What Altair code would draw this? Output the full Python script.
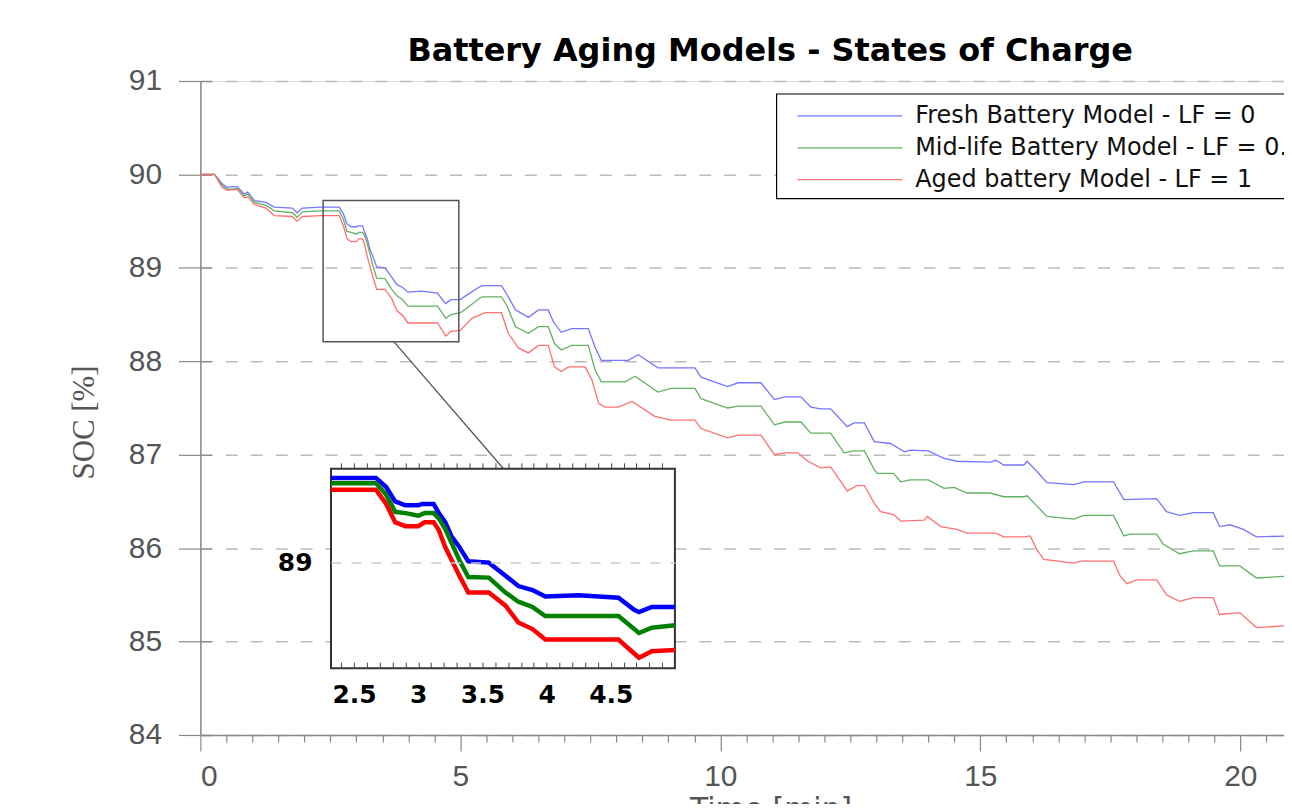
import altair as alt
import pandas as pd

SERIES = ["Fresh Battery Model - LF = 0",
          "Mid-life Battery Model - LF = 0.5",
          "Aged battery Model - LF = 1"]

fresh_t = [0, 0.27, 0.42, 0.52, 0.59, 0.71, 0.84, 0.91, 1.04, 1.26, 1.42, 1.77, 1.86, 1.96,
           2.32, 2.67, 2.75, 2.82, 2.90, 3.00, 3.03, 3.12, 3.16, 3.21, 3.26, 3.32, 3.39, 3.55,
           3.68, 3.78, 3.89, 3.99, 4.25, 4.56, 4.68, 4.72, 4.82, 5.00, 5.10, 5.35, 5.41, 5.79,
           5.89, 6.06, 6.31, 6.50, 6.69, 6.79, 6.94, 7.14, 7.46, 7.59, 7.71, 8.23, 8.42, 8.80,
           9.51, 9.63, 10.14, 10.34, 10.78, 11.04, 11.24, 11.55, 11.74, 11.93, 12.12, 12.44,
           12.57, 12.77, 12.96, 13.27, 13.54, 13.65, 14.00, 14.30, 14.55, 15.19, 15.30, 15.45,
           15.84, 15.90, 16.09, 16.28, 16.80, 16.99, 17.56, 17.76, 18.39, 18.58, 18.83, 19.10,
           19.48, 19.60, 19.80, 20.06, 20.31, 20.92]
fresh_soc = [90.00, 90.00, 89.90, 89.86, 89.87, 89.87, 89.79, 89.81, 89.72, 89.70, 89.65, 89.64, 89.59, 89.64,
             89.65, 89.65, 89.58, 89.47, 89.44, 89.44, 89.45, 89.45, 89.38, 89.31, 89.20, 89.12, 89.01, 89.00,
             88.90, 88.82, 88.79, 88.74, 88.75, 88.73, 88.64, 88.62, 88.66, 88.66, 88.70, 88.79, 88.81, 88.81,
             88.72, 88.55, 88.47, 88.55, 88.55, 88.42, 88.31, 88.35, 88.35, 88.15, 88.01, 88.01, 88.07, 87.93,
             87.93, 87.83, 87.73, 87.77, 87.77, 87.59, 87.62, 87.62, 87.51, 87.49, 87.49, 87.30,
             87.34, 87.34, 87.14, 87.12, 87.03, 87.05, 87.04, 86.96, 86.93, 86.92, 86.94, 86.89,
             86.89, 86.93, 86.82, 86.70, 86.68, 86.71, 86.71, 86.52, 86.53, 86.39, 86.35, 86.38,
             86.38, 86.23, 86.25, 86.20, 86.12, 86.13]

mid_t = [0, 0.27, 0.42, 0.52, 0.71, 0.84, 0.91, 1.04, 1.26, 1.42, 1.77, 1.86, 1.96,
         2.32, 2.67, 2.75, 2.82, 2.90, 3.00, 3.05, 3.12, 3.16, 3.21, 3.26, 3.32, 3.39, 3.55,
         3.68, 3.78, 3.89, 3.99, 4.56, 4.72, 4.82, 5.00, 5.10, 5.41, 5.79, 5.89, 6.06, 6.31,
         6.50, 6.69, 6.81, 6.94, 7.14, 7.46, 7.59, 7.71, 8.17, 8.36, 8.80, 9.05, 9.51, 9.63,
         10.14, 10.34, 10.78, 11.04, 11.24, 11.55, 11.74, 12.12, 12.38, 12.57, 12.77, 12.96,
         13.02, 13.33, 13.47, 13.65, 14.00, 14.30, 14.50, 14.74, 15.19, 15.45, 15.84, 15.90,
         16.09, 16.28, 16.80, 16.99, 17.56, 17.76, 17.88, 18.39, 18.52, 18.83, 19.10, 19.48,
         19.60, 19.99, 20.31, 20.92]
mid_soc = [90.00, 90.00, 89.88, 89.84, 89.85, 89.77, 89.79, 89.70, 89.67, 89.61, 89.59, 89.54, 89.60,
           89.61, 89.61, 89.52, 89.39, 89.38, 89.36, 89.38, 89.38, 89.34, 89.26, 89.15, 89.02, 88.89, 88.885,
           88.77, 88.70, 88.66, 88.59, 88.59, 88.46, 88.50, 88.52, 88.56, 88.69, 88.69, 88.60, 88.37, 88.30,
           88.37, 88.37, 88.19, 88.12, 88.17, 88.17, 87.91, 87.78, 87.78, 87.84, 87.67, 87.71, 87.71, 87.60,
           87.50, 87.52, 87.52, 87.32, 87.35, 87.35, 87.23, 87.23, 87.02, 87.04, 87.04, 86.84,
           86.80, 86.80, 86.71, 86.73, 86.73, 86.64, 86.65, 86.59, 86.59, 86.55, 86.55, 86.56,
           86.45, 86.34, 86.31, 86.35, 86.35, 86.13, 86.15, 86.15, 86.04, 85.94, 85.97, 85.97,
           85.81, 85.81, 85.68, 85.70]

aged_t = [0, 0.27, 0.42, 0.52, 0.71, 0.84, 0.91, 1.04, 1.26, 1.42, 1.77, 1.86, 1.96,
          2.32, 2.67, 2.75, 2.82, 2.90, 3.00, 3.05, 3.12, 3.16, 3.21, 3.26, 3.32, 3.39, 3.55,
          3.68, 3.78, 3.89, 3.99, 4.56, 4.72, 4.82, 5.00, 5.22, 5.48, 5.79, 5.92, 6.12, 6.31,
          6.50, 6.69, 6.81, 6.94, 7.08, 7.40, 7.53, 7.66, 7.78, 8.04, 8.30, 8.74, 9.05, 9.51,
          9.63, 10.14, 10.34, 10.78, 11.04, 11.24, 11.49, 11.68, 11.93, 12.12, 12.38, 12.44,
          12.63, 12.77, 12.96, 13.08, 13.33, 13.47, 13.92, 13.98, 14.24, 14.55, 14.74, 15.30,
          15.45, 15.84, 15.96, 16.09, 16.22, 16.80, 16.93, 17.56, 17.69, 17.82, 18.01, 18.39,
          18.58, 18.83, 19.10, 19.48, 19.60, 19.99, 20.31, 20.92]
aged_soc = [90.00, 90.00, 89.86, 89.83, 89.84, 89.75, 89.76, 89.68, 89.64, 89.56, 89.55, 89.50, 89.55,
            89.56, 89.56, 89.45, 89.31, 89.28, 89.28, 89.31, 89.31, 89.25, 89.12, 89.02, 88.90, 88.77, 88.77,
            88.67, 88.54, 88.49, 88.41, 88.41, 88.27, 88.32, 88.33, 88.46, 88.52, 88.52, 88.30, 88.14, 88.09,
            88.17, 88.17, 87.94, 87.89, 87.94, 87.94, 87.80, 87.55, 87.51, 87.51, 87.57, 87.41, 87.37, 87.37,
            87.28, 87.18, 87.21, 87.21, 87.00, 87.02, 87.02, 86.93, 86.86, 86.87, 86.66, 86.61,
            86.67, 86.67, 86.48, 86.39, 86.36, 86.29, 86.30, 86.34, 86.23, 86.20, 86.16, 86.16,
            86.12, 86.12, 86.13, 85.98, 85.88, 85.84, 85.86, 85.86, 85.70, 85.62, 85.66, 85.66,
            85.50, 85.43, 85.47, 85.47, 85.29, 85.31, 85.15, 85.17]

Y_TICKS = [84, 85, 86, 87, 88, 89, 90, 91]
X_TICKS = [0, 5, 10, 15, 20]
X_MINOR = [i * 0.5 for i in range(42) if i % 10 != 0]
INSET_LABELS = [2.5, 3, 3.5, 4, 4.5]
INSET_MINOR = [round(2.4 + 0.1 * i, 1) for i in range(26)]
INSET_Y_TICKS = [89]

# zoom window (main coords), inset box (inset coords), connector (main coords)
zoom_t = [2.36, 4.97]
zoom_soc = [88.21, 89.72]
inset_t = [2.32, 5.0]
inset_soc = [88.19, 89.72]
conn_t = [3.72, 5.83]
conn_soc = [88.21, 86.85]

frames = []
for name, ts, vs in zip(SERIES, [fresh_t, mid_t, aged_t], [fresh_soc, mid_soc, aged_soc]):
    assert len(ts) == len(vs), name
    frames.append(pd.DataFrame({"series": name, "t": ts, "soc": vs}))
df = pd.concat(frames, ignore_index=True)

LIGHT = ["#7575ff", "#62b062", "#ff7070"]
DARK = ["#0000ff", "#008000", "#ff0000"]

W, H = 1087, 656
XMAX = 20.84

main_x = alt.Scale(domain=[0, XMAX], nice=False, zero=False)
main_y = alt.Scale(domain=[84, 91], nice=False, zero=False)
inset_x = alt.Scale(domain=inset_t, range=[131, 476], nice=False, zero=False)
inset_y = alt.Scale(domain=inset_soc, range=[589, 389], nice=False, zero=False)

lines = alt.Chart(df).mark_line(strokeWidth=1.3, clip=True).encode(
    x=alt.X("t:Q", scale=main_x, axis=alt.Axis(
        orient="bottom", values=X_TICKS, format="d", title="Time [min]",
        labelFont="Liberation Sans", labelFontSize=30, labelColor="#555", labelPadding=11,
        tickSize=16, tickColor="#888", tickWidth=1.2, domainColor="#888", domainWidth=1.5,
        grid=False, titleFont="DejaVu Sans", titleFontSize=30, titleFontWeight="normal",
        titleColor="#555", titleX=572, titleY=60, titleAlign="center", titleBaseline="top")),
    y=alt.Y("soc:Q", scale=main_y, axis=alt.Axis(
        orient="left", values=Y_TICKS, format="d", title="SOC [%]",
        labelFont="Liberation Sans", labelFontSize=30, labelColor="#555", labelPadding=17,
        tickSize=22, tickColor="#888", tickWidth=1.2, domainColor="#888", domainWidth=1.5,
        grid=True, gridColor="#bbb", gridDash=[12, 13], gridWidth=1.5,
        titleFont="Liberation Sans Narrow", titleFontSize=31, titleFontWeight="normal",
        titleColor="#555", titleAngle=270, titleX=-116, titleY=342,
        titleAlign="center", titleBaseline="middle")),
    color=alt.Color("series:N", scale=alt.Scale(domain=SERIES, range=LIGHT), legend=None),
)

zoom_df = pd.DataFrame({"t1": [zoom_t[0]], "t2": [zoom_t[1]], "s1": [zoom_soc[0]], "s2": [zoom_soc[1]]})
inset_df = pd.DataFrame({"t1": [inset_t[0]], "t2": [inset_t[1]], "s1": [inset_soc[0]], "s2": [inset_soc[1]]})
conn_df = pd.DataFrame({"t1": [conn_t[0]], "t2": [conn_t[1]], "s1": [conn_soc[0]], "s2": [conn_soc[1]]})

# minor x ticks below the axis, and the inner half of the y ticks
minor = alt.Chart(zoom_df).mark_rect(opacity=0).encode(
    x=alt.X("t1:Q", scale=main_x, axis=alt.Axis(
        orient="bottom", values=X_MINOR, labels=False, tickSize=7, tickColor="#888",
        tickWidth=1.2, domain=False, grid=False, title=None)),
    x2="t2:Q",
    y=alt.Y("s1:Q", scale=main_y, axis=alt.Axis(
        orient="right", offset=-W, values=Y_TICKS, labels=False, tickSize=11,
        tickColor="#888", tickWidth=1.2, domain=False, grid=False, title=None)),
    y2="s2:Q",
)

zoomrect = alt.Chart(zoom_df).mark_rect(fillOpacity=0, stroke="#555", strokeWidth=1.5).encode(
    x=alt.X("t1:Q", scale=main_x, axis=None), x2="t2:Q",
    y=alt.Y("s1:Q", scale=main_y, axis=None), y2="s2:Q",
)

conn = alt.Chart(conn_df).mark_rule(color="#555", strokeWidth=1.3).encode(
    x=alt.X("t1:Q", scale=main_x, axis=None), x2="t2:Q",
    y=alt.Y("s1:Q", scale=main_y, axis=None), y2="s2:Q",
)

inset_bg = alt.Chart(inset_df).mark_rect(fill="white", stroke="#333", strokeWidth=2).encode(
    x=alt.X("t1:Q", scale=inset_x, axis=alt.Axis(
        orient="bottom", offset=-67, values=INSET_LABELS, format="~g", tickSize=0,
        domain=False, grid=False, labelFont="DejaVu Sans", labelFontWeight="bold",
        labelFontSize=25, labelColor="black", labelPadding=14, title=None, zindex=1)),
    x2="t2:Q",
    y=alt.Y("s1:Q", scale=inset_y, axis=alt.Axis(
        orient="left", offset=-131, values=INSET_Y_TICKS, format="d", tickSize=0,
        domain=False, grid=True, gridDash=[10, 10], gridColor="#ccc", gridWidth=1.5,
        labelFont="DejaVu Sans", labelFontWeight="bold", labelFontSize=25,
        labelColor="black", labelPadding=19, title=None, zindex=1)),
    y2="s2:Q",
)

inset_lines = alt.Chart(df).transform_filter(
    "datum.t >= 2.32 && datum.t <= 5.0"
).mark_line(strokeWidth=4.5).encode(
    x=alt.X("t:Q", scale=inset_x, axis=alt.Axis(
        orient="top", offset=-589, values=INSET_MINOR, labels=False, tickSize=6,
        tickColor="#444", domain=False, grid=False, title=None, zindex=1)),
    y=alt.Y("soc:Q", scale=inset_y, axis=None),
    color=alt.Color("series:N", scale=alt.Scale(domain=SERIES, range=DARK), legend=None),
)

inset_top = alt.Chart(inset_df).mark_rect(opacity=0).encode(
    x=alt.X("t1:Q", scale=inset_x, axis=alt.Axis(
        orient="top", offset=-389, values=INSET_MINOR, labels=False, tickSize=6,
        tickColor="#444", domain=False, grid=False, title=None, zindex=1)),
    x2="t2:Q",
    y=alt.Y("s1:Q", scale=inset_y, axis=None),
    y2="s2:Q",
)

leg_df = pd.DataFrame({"series": SERIES, "row": [0, 1, 2]})
row_y = alt.Y("row:Q", scale=alt.Scale(domain=[0, 2], range=[35, 99]), axis=None)

leg_box = alt.Chart(pd.DataFrame({"k": [0]})).mark_rect(
    fill="white", stroke="black", strokeWidth=1.2
).encode(x=alt.value(578), x2=alt.value(1140), y=alt.value(13), y2=alt.value(118))

leg_rules = alt.Chart(leg_df).mark_rule(strokeWidth=1.3).encode(
    x=alt.value(599), x2=alt.value(704), y=row_y,
    color=alt.Color("series:N", scale=alt.Scale(domain=SERIES, range=LIGHT), legend=None),
)

leg_text = alt.Chart(leg_df).mark_text(
    align="left", baseline="middle", font="DejaVu Sans", fontSize=24, color="#111"
).encode(x=alt.value(717), y=row_y, text="series:N")

chart = alt.layer(
    lines, minor, zoomrect, conn, inset_bg, inset_lines, inset_top,
    leg_box, leg_rules, leg_text
).resolve_scale(
    x="independent", y="independent", color="independent"
).properties(
    width=W, height=H,
    padding={"left": 193, "top": 72, "right": 0, "bottom": 68},
    autosize=alt.AutoSizeParams(type="none"),
    title=alt.TitleParams(
        "Battery Aging Models - States of Charge", font="DejaVu Sans", fontSize=32,
        fontWeight="bold", color="black", anchor="middle", frame="group", dx=28, offset=-2),
).configure_view(strokeWidth=0).configure(background="white")

chart.save("out.html", embed_options={"renderer": "svg", "actions": False})
